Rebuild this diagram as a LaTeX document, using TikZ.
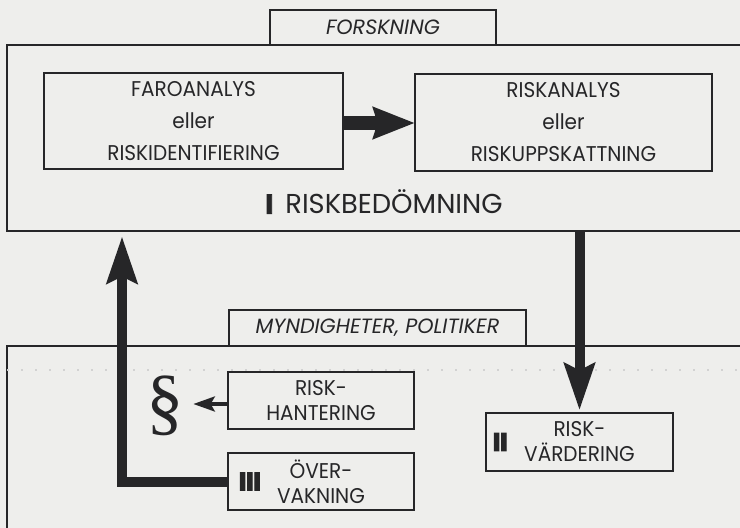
\documentclass[tikz,border=0pt]{standalone}
\usepackage{fontspec}
\usepackage{xcolor}
\usepackage{tikz}
\usetikzlibrary{arrows.meta,positioning}
\setmainfont{Poppins}
\newfontfamily\boxfont[FakeStretch=0.94]{Poppins}
\newfontfamily\paraserif{Liberation Serif}
\definecolor{paper}{RGB}{238, 238, 236}
\definecolor{ink}{RGB}{38, 38, 40}

\begin{document}
\begin{tikzpicture}[x=0.75pt, y=-0.75pt,
    box/.style={draw=ink, line width=0.9pt, inner sep=0pt, outer sep=0pt, align=center, text=ink},
    tab/.style={box, font=\fontsize{15.5}{17}\selectfont\itshape},
    numbar/.style={inner sep=0pt, text=ink, font=\fontsize{19}{19}\selectfont\bfseries\addfontfeatures{FakeBold=4, LetterSpace=-1}},
    bigarrow/.style={draw=ink, line width=7.5pt, -{Stealth[length=35pt, width=22.5pt, inset=5pt]}},
    fatarrow/.style={draw=ink, line width=10.5pt, -{Stealth[length=31pt, width=23pt, inset=3pt]}},
    smallarrow/.style={draw=ink, line width=3.5pt, -{Stealth[length=16pt, width=11pt, inset=3pt]}}]
  % paper and frame
  \useasboundingbox (0,0) rectangle (740,528);
  \fill[paper] (0,0) rectangle (740,528);
  \clip (0,0) rectangle (740,528);
  % Label: "FORSKNING" tab on top of the upper frame
  \node[tab, minimum width=169.5pt, minimum height=26.25pt] (forsk) at (383,27.5) {FORSKNING};
  \node[box, minimum width=564.75pt, minimum height=139.5pt] (bed) at (383.5,138) {};
  % the two analysis boxes
  \node[box, minimum width=224.25pt, minimum height=72pt,
        font=\boxfont\fontsize{16}{24}\selectfont] (faro) at (193.5,121)
        {FAROANALYS\\eller\\RISKIDENTIFIERING};
  \node[box, minimum width=222.75pt, minimum height=72.75pt,
        font=\boxfont\fontsize{16}{24}\selectfont] (riskan) at (563.5,122.5)
        {RISKANALYS\\eller\\RISKUPPSKATTNING};
  \node[text=ink, inner sep=0pt, font=\fontsize{20.5}{20.5}\selectfont] (bedlabel) at (384,202)
        {{\bfseries\addfontfeatures{FakeBold=3}I}\hspace{9pt}RISKBEDÖMNING};
  % Label: "MYNDIGHETER, POLITIKER" tab on the lower frame
  \node[tab, minimum width=222.75pt, minimum height=27pt] (mynd) at (377.5,328) {MYNDIGHETER, POLITIKER};
  \node[box, minimum width=564.75pt, minimum height=160.5pt] (myndram) at (383.5,453) {};
  % faint dotted rule through the lower frame
  \draw[gray!35, line width=0.8pt, dash pattern=on 1.5pt off 9pt] (myndram.west |- 0,370) -- (myndram.east |- 0,370);
  % the three boxes below
  \node[box, minimum width=139.5pt, minimum height=42.75pt,
        font=\boxfont\fontsize{16}{18.75}\selectfont] (hant) at (321,400.5) {RISK-\\HANTERING};
  \node[box, minimum width=139.5pt, minimum height=42.75pt,
        font=\boxfont\fontsize{16}{18.75}\selectfont] (overv) at (321,481.5) {ÖVER-\\VAKNING};
  \node[box, minimum width=140.25pt, minimum height=43.5pt,
        font=\boxfont\fontsize{16}{18.75}\selectfont] (vard) at (579.5,442) {RISK-\\VÄRDERING};
  \node[numbar, right=8pt of overv.west] (tre) {III};
  \node[numbar, right=5pt of vard.west] (tva) {II};
  % paragraph sign
  \node[text=ink, inner sep=0pt, font=\paraserif\fontsize{56}{56}\selectfont] (para) at (165,406) {§};
  % arrows
  \coordinate (upline) at (122,0);
  \draw[fatarrow] (faro.east |- 0,123) -- (riskan.west |- 0,123);
  \draw[bigarrow, shorten >=4pt] (overv.west) -| (upline |- bed.south);
  \draw[bigarrow, shorten >=2pt] (vard.north |- bed.south) -- (vard.north);
  \draw[smallarrow, shorten >=7pt] (hant.west |- 0,404) -- (para.east |- 0,404);
\end{tikzpicture}
\end{document}
